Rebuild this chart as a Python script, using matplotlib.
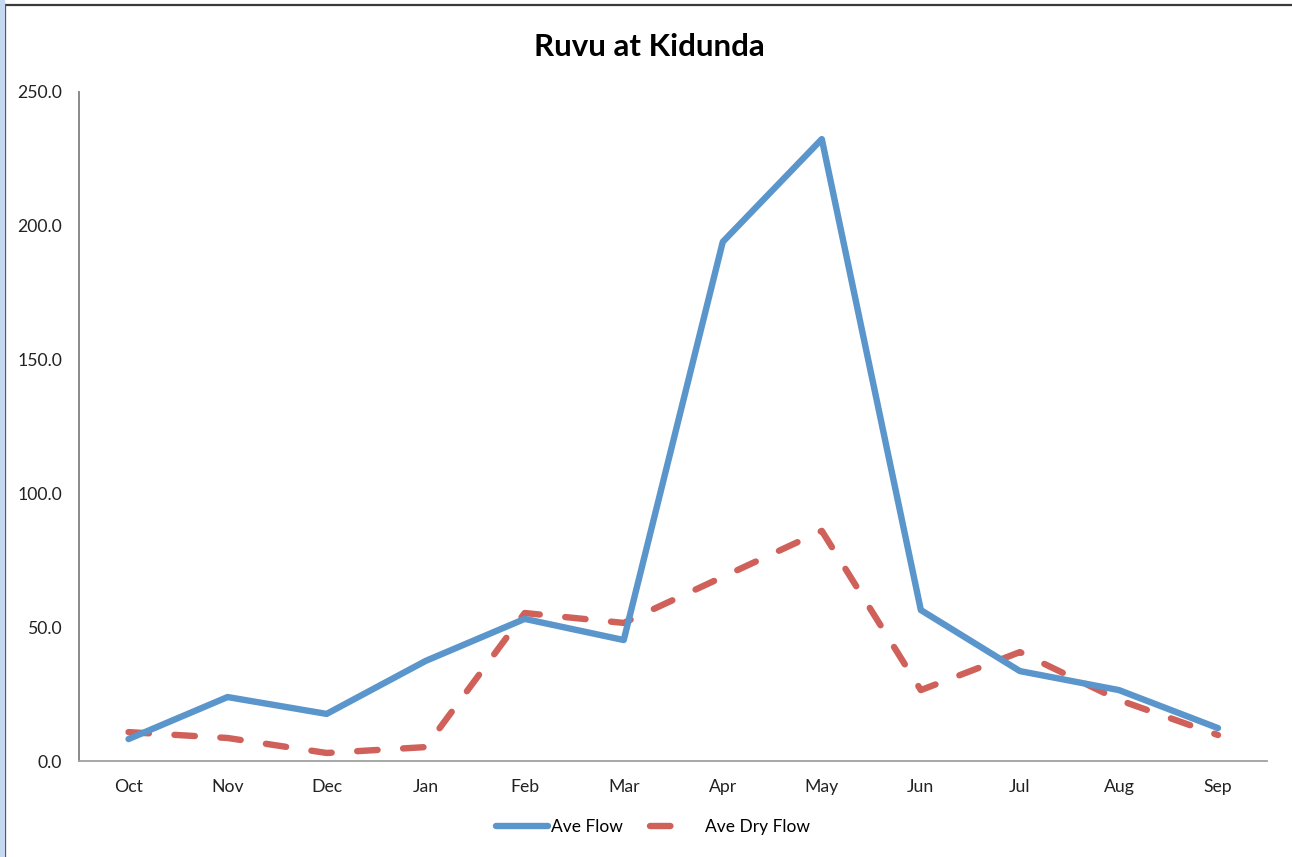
import matplotlib
matplotlib.use("Agg")
import matplotlib.pyplot as plt
from matplotlib.lines import Line2D
from matplotlib.patches import Rectangle

months = ["Oct", "Nov", "Dec", "Jan", "Feb", "Mar", "Apr", "May", "Jun", "Jul", "Aug", "Sep"]
ave_flow = [8.2, 23.9, 17.6, 37.4, 53.1, 45.2, 194.0, 232.4, 56.4, 33.6, 26.5, 12.3]
ave_dry_flow = [10.8, 8.6, 3.0, 5.2, 55.3, 51.6, 68.8, 86.0, 26.5, 40.7, 22.8, 9.7]
yticks = [0, 50, 100, 150, 200, 250]

plt.rcParams['font.family'] = ['Lato', 'DejaVu Sans']

fig = plt.figure(figsize=(12.92, 8.57), dpi=100)
ax = fig.add_axes([79/1292, 1-761/857, (1267.5-79)/1292, (761-92)/857])

blue = '#5A96CB'
red = '#D0605A'
x = list(range(len(months)))
ax.plot(x, ave_flow, color=blue, lw=4.6, solid_capstyle='round', solid_joinstyle='round', label='Ave Flow', zorder=3)
ax.plot(x, ave_dry_flow, color=red, lw=4.6, dash_capstyle='round', dash_joinstyle='round',
        dashes=(3.2, 4.0), label='Ave Dry Flow', zorder=2)

ax.set_xlim(-0.5, 11.5)
ax.set_ylim(0, 250)
ax.set_xticks(x)
ax.set_xticklabels(months)
ax.set_yticks(yticks)
ax.set_yticklabels([f"{v:.1f}" for v in yticks])
ax.tick_params(axis='both', length=0, labelsize=12.7, colors='#222222')
ax.tick_params(axis='y', pad=12)
ax.tick_params(axis='x', pad=13)
for s in ['top', 'right']:
    ax.spines[s].set_visible(False)
ax.spines['left'].set_color('#808080')
ax.spines['bottom'].set_color('#A0A0A0')
ax.spines['left'].set_linewidth(1.3)
ax.spines['bottom'].set_linewidth(1.3)

fig.text(649/1292, 1-47/857, "Ruvu at Kidunda", ha='center', va='center', fontsize=22.5, fontweight='bold', color='#000000')

handles = [Line2D([0], [0], color=blue, lw=4.6, solid_capstyle='round'),
           Line2D([0], [0], color=red, lw=4.6, dash_capstyle='round', dashes=(3.2, 8.0))]
leg = fig.legend(handles, ['Ave Flow', 'Ave Dry Flow'], loc='center', bbox_to_anchor=(653/1292, 1-827/857),
                 ncol=2, frameon=False, fontsize=12.5, handlelength=3.0, handletextpad=0.15, columnspacing=1.6)

# figure border
fig.patches.append(Rectangle((0, 0), 4/1292, 1, transform=fig.transFigure, color='#C5D9F1', zorder=10))
fig.add_artist(Line2D([5/1292, 5/1292], [0, 1-5/857], transform=fig.transFigure, color='#3A3A3A', lw=1.6))
fig.add_artist(Line2D([5/1292, 1], [1-5/857, 1-5/857], transform=fig.transFigure, color='#3A3A3A', lw=1.6))

fig.savefig("out.png", dpi=100)
